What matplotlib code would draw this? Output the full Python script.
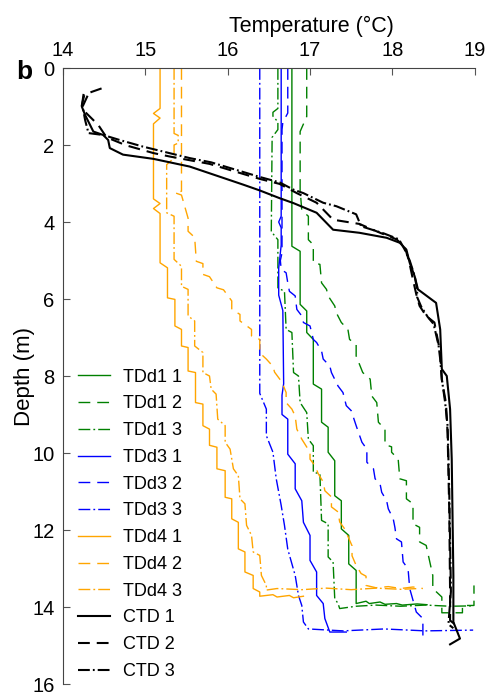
import matplotlib
matplotlib.use("Agg")
import matplotlib.pyplot as plt

plt.rcParams['font.family'] = ['Liberation Sans', 'DejaVu Sans']
plt.rcParams['lines.scale_dashes'] = False

# temperature (degC) / depth (m) profiles
tdd1_1_t = [16.78, 16.78, 16.88, 16.88, 16.96, 16.96, 17.04, 17.04, 17.14, 17.14, 17.22, 17.22,
            17.30, 17.30, 17.38, 17.38, 17.47, 17.47, 17.56, 17.56, 17.68, 17.72, 17.85, 17.91,
            18.05, 18.12, 18.30, 18.42]
tdd1_1_d = [0, 4.63, 4.76, 6.14, 6.31, 6.87, 7.05, 8.21, 8.34, 9.20, 9.33, 9.98,
            10.20, 11.11, 11.24, 11.97, 12.14, 12.88, 13.05, 13.91, 13.85, 13.91, 13.87, 13.93,
            13.91, 13.95, 13.92, 13.94]

tdd1_2_t = [16.96, 16.96, 16.88, 16.88, 16.90, 16.98, 16.98, 17.04, 17.04, 17.12, 17.14, 17.20,
            17.22, 17.30, 17.32, 17.38, 17.46, 17.48, 17.56, 17.56, 17.64, 17.73, 17.75, 17.81,
            17.83, 17.91, 17.91, 17.99, 17.99, 18.07, 18.09, 18.17, 18.17, 18.25, 18.25, 18.33,
            18.33, 18.41, 18.49, 18.49, 18.60, 18.60, 18.85, 18.85, 18.99, 18.99]
tdd1_2_d = [0, 1.26, 1.65, 3.16, 3.70, 3.85, 4.46, 4.59, 5.06, 5.10, 5.58, 5.75,
            5.92, 6.18, 6.36, 6.61, 6.79, 7.05, 7.18, 7.48, 7.91, 8.08, 8.52, 8.69,
            9.20, 9.38, 9.78, 9.84, 9.98, 10.16, 10.67, 10.72, 11.19, 11.32, 11.84, 11.93,
            12.31, 12.40, 13.18, 13.52, 13.74, 14.15, 14.15, 13.96, 13.96, 13.44]

tdd1_3_t = [16.61, 16.61, 16.55, 16.55, 16.61, 16.61, 16.54, 16.53, 16.61, 16.61, 16.69, 16.71,
            16.78, 16.80, 16.86, 16.88, 16.96, 16.98, 17.04, 17.04, 17.12, 17.14, 17.22, 17.22,
            17.28, 17.30, 17.34, 17.36, 17.56, 17.80, 18.10, 18.40, 18.70, 18.99]
tdd1_3_d = [0, 1.05, 1.15, 1.25, 1.40, 1.60, 1.80, 4.25, 4.46, 5.71, 5.80, 6.79,
            6.87, 7.91, 8.00, 8.69, 8.95, 9.64, 9.81, 10.50, 10.54, 11.75, 11.84, 12.70,
            12.83, 13.78, 13.91, 14.04, 13.98, 13.95, 13.98, 13.95, 13.98, 13.97]

tdd3_1_t = [16.65, 16.65, 16.62, 16.65, 16.65, 16.62, 16.62, 16.67, 16.68, 16.66, 16.66, 16.73,
            16.73, 16.82, 16.82, 16.90, 16.92, 17.00, 17.00, 17.08, 17.08, 17.16, 17.18, 17.24, 17.44]
tdd3_1_d = [0, 3.85, 4.00, 4.15, 4.60, 5.20, 5.90, 6.30, 8.20, 8.50, 9.00, 9.12,
            10.03, 10.28, 10.93, 11.24, 11.80, 12.14, 12.79, 13.09, 13.70, 13.91, 14.30, 14.65, 14.65]

tdd3_2_t = [16.73, 16.73, 16.67, 16.66, 16.66, 16.64, 16.65, 16.71, 16.73, 16.75, 16.82, 16.84,
            16.90, 16.92, 17.00, 17.04, 17.08, 17.14, 17.16, 17.24, 17.26, 17.34, 17.40, 17.44,
            17.50, 17.56, 17.63, 17.69, 17.69, 17.77, 17.79, 17.85, 17.87, 17.93, 17.95, 18.01,
            18.03, 18.05, 18.11, 18.13, 18.19, 18.21, 18.29, 18.37, 18.37]
tdd3_2_d = [0, 1.17, 1.41, 1.60, 4.80, 5.00, 5.23, 5.32, 5.58, 5.80, 5.92, 6.27,
            6.44, 6.61, 6.70, 7.05, 7.13, 7.35, 7.56, 7.74, 7.91, 8.26, 8.43, 8.77,
            8.90, 9.29, 9.72, 9.90, 10.24, 10.41, 10.67, 10.80, 11.02, 11.24, 11.45, 11.71,
            11.93, 12.23, 12.31, 12.83, 13.01, 13.52, 14.13, 14.30, 14.82]

tdd3_3_t = [16.39, 16.39, 16.47, 16.47, 16.55, 16.59, 16.65, 16.69, 16.73, 16.82, 16.86, 16.90,
            16.92, 16.98, 17.40, 17.90, 18.40, 18.98]
tdd3_3_d = [0, 8.45, 8.86, 9.55, 9.98, 10.67, 11.36, 11.88, 12.50, 13.18, 13.70, 13.96,
            14.39, 14.57, 14.62, 14.57, 14.62, 14.60]

tdd4_1_t = [15.18, 15.18, 15.10, 15.18, 15.10, 15.10, 15.18, 15.10, 15.18, 15.18, 15.27, 15.27,
            15.36, 15.36, 15.44, 15.44, 15.52, 15.52, 15.61, 15.61, 15.70, 15.70, 15.78, 15.78,
            15.87, 15.87, 15.97, 15.97, 16.05, 16.05, 16.13, 16.13, 16.21, 16.21, 16.31, 16.31,
            16.39, 16.39, 16.55, 16.60, 16.75, 16.80, 16.92]
tdd4_1_d = [0, 1.05, 1.18, 1.30, 1.45, 3.40, 3.52, 3.65, 3.78, 5.06, 5.19, 5.97,
            6.01, 6.70, 6.79, 7.22, 7.26, 7.87, 7.91, 8.69, 8.73, 9.29, 9.38, 9.80,
            9.85, 10.41, 10.46, 11.15, 11.19, 11.71, 11.80, 12.49, 12.57, 13.09, 13.18, 13.52,
            13.61, 13.72, 13.68, 13.74, 13.70, 13.76, 13.72]

tdd4_2_t = [15.44, 15.44, 15.36, 15.44, 15.52, 15.52, 15.60, 15.62, 15.70, 15.70, 15.78, 15.87,
            15.95, 16.05, 16.05, 16.15, 16.15, 16.29, 16.29, 16.39, 16.39, 16.47, 16.55, 16.57,
            16.66, 16.71, 16.71, 16.78, 16.82, 16.84, 16.90, 17.00, 17.00, 17.06, 17.10, 17.16,
            17.18, 17.26, 17.26, 17.34, 17.36, 17.42, 17.51, 17.51, 17.56, 17.62, 17.68, 17.68,
            17.80, 17.95, 18.10, 18.25, 18.37]
tdd4_2_d = [0, 3.20, 3.24, 3.30, 3.90, 4.24, 4.40, 5.02, 5.08, 5.36, 5.42, 5.71,
            5.76, 6.05, 6.27, 6.40, 6.57, 6.79, 6.96, 7.05, 7.40, 7.56, 7.75, 7.90,
            8.16, 8.43, 8.69, 8.86, 9.04, 9.38, 9.64, 9.98, 10.16, 10.33, 10.54, 10.75,
            10.98, 11.14, 11.40, 11.53, 11.79, 11.97, 12.41, 12.67, 12.92, 13.13, 13.20, 13.44,
            13.50, 13.47, 13.52, 13.48, 13.52]

tdd4_3_t = [15.35, 15.35, 15.40, 15.40, 15.35, 15.35, 15.26, 15.26, 15.30, 15.35, 15.35, 15.44,
            15.44, 15.52, 15.52, 15.60, 15.60, 15.70, 15.70, 15.78, 15.80, 15.86, 15.88, 15.97,
            15.97, 16.03, 16.07, 16.13, 16.15, 16.21, 16.23, 16.29, 16.31, 16.39, 16.41, 16.47,
            16.47, 16.60, 16.90, 17.20, 17.50, 17.80, 18.10, 18.32]
tdd4_3_d = [0, 1.70, 1.75, 1.95, 2.00, 2.34, 2.51, 3.76, 3.80, 3.85, 4.97, 5.15,
            5.67, 5.75, 6.44, 6.57, 7.22, 7.39, 7.91, 8.00, 8.34, 8.47, 9.12, 9.29,
            9.72, 9.90, 10.41, 10.59, 11.19, 11.32, 11.88, 12.14, 12.57, 12.66, 13.18, 13.44,
            13.56, 13.52, 13.55, 13.51, 13.55, 13.51, 13.54, 13.52]

ctd1_t = [14.25, 14.23, 14.27, 14.37, 14.49, 14.55, 14.57, 14.73, 15.10, 15.54, 16.19, 16.39,
          16.63, 16.80, 17.08, 17.28, 17.60, 17.93, 18.09, 18.17, 18.21, 18.27, 18.31, 18.53,
          18.58, 18.60, 18.66, 18.70, 18.72, 18.74, 18.74, 18.82, 18.70]
ctd1_d = [0.70, 1.00, 1.22, 1.65, 1.74, 1.87, 2.08, 2.25, 2.36, 2.56, 3.03, 3.18,
          3.38, 3.51, 3.76, 4.20, 4.28, 4.41, 4.54, 4.72, 5.06, 5.41, 5.75, 6.10,
          6.79, 7.82, 8.00, 8.86, 10.16, 13.18, 14.39, 14.82, 14.97]

ctd2_t = [14.47, 14.35, 14.26, 14.23, 14.26, 14.43, 14.53, 14.77, 15.10, 15.30, 15.78, 16.39,
          16.63, 16.84, 17.08, 17.28, 17.60, 17.85, 18.05, 18.15, 18.20, 18.25, 18.29, 18.33,
          18.41, 18.51, 18.58, 18.60, 18.65, 18.67, 18.69, 18.70, 18.70, 18.76]
ctd2_d = [0.53, 0.62, 0.70, 0.97, 1.12, 1.48, 1.80, 2.01, 2.21, 2.30, 2.49, 2.88,
          3.01, 3.25, 3.50, 3.94, 4.05, 4.28, 4.45, 4.65, 5.00, 5.50, 5.88, 6.18,
          6.44, 6.61, 7.39, 8.10, 8.70, 9.50, 11.50, 13.60, 14.35, 14.45]

ctd3_t = [14.30, 14.24, 14.27, 14.30, 14.31, 14.49, 14.69, 14.97, 15.54, 15.80, 16.39, 16.63,
          16.80, 16.92, 17.16, 17.32, 17.56, 17.62, 17.90, 18.08, 18.15, 18.21, 18.27, 18.30,
          18.30, 18.35, 18.43, 18.50, 18.56, 18.58, 18.60, 18.64, 18.67, 18.69, 18.71, 18.68, 18.74]
ctd3_d = [0.72, 1.00, 1.35, 1.60, 1.69, 1.74, 1.87, 2.04, 2.34, 2.45, 2.83, 2.97,
          3.16, 3.25, 3.50, 3.59, 3.80, 4.11, 4.30, 4.45, 4.72, 5.00, 5.40, 5.75,
          5.95, 6.20, 6.47, 6.65, 7.20, 7.56, 8.08, 8.69, 9.30, 11.00, 13.60, 14.45, 14.55]

green = '#008000'
blue = '#0000ff'
orange = '#ffa500'
dash = (0, (8.5, 5))
dashdot = (0, (8.5, 2.2, 1.3, 2.2))

series = [
    (tdd1_1_t, tdd1_1_d, green, '-', 'TDd1 1'),
    (tdd1_2_t, tdd1_2_d, green, dash, 'TDd1 2'),
    (tdd1_3_t, tdd1_3_d, green, dashdot, 'TDd1 3'),
    (tdd3_1_t, tdd3_1_d, blue, '-', 'TDd3 1'),
    (tdd3_2_t, tdd3_2_d, blue, dash, 'TDd3 2'),
    (tdd3_3_t, tdd3_3_d, blue, dashdot, 'TDd3 3'),
    (tdd4_1_t, tdd4_1_d, orange, '-', 'TDd4 1'),
    (tdd4_2_t, tdd4_2_d, orange, dash, 'TDd4 2'),
    (tdd4_3_t, tdd4_3_d, orange, dashdot, 'TDd4 3'),
    (ctd1_t, ctd1_d, 'black', '-', 'CTD 1'),
    (ctd2_t, ctd2_d, 'black', dash, 'CTD 2'),
    (ctd3_t, ctd3_d, 'black', dashdot, 'CTD 3'),
]

fig = plt.figure(figsize=(4.91, 6.94), dpi=100)
ax = fig.add_axes([0.128, 0.0144, 0.839, 0.8876])

for t, d, c, ls, lab in series:
    lw = 1.5 if c == 'black' else 1.0
    ax.plot(t, d, color=c, linestyle=ls, linewidth=lw, label=lab)

ax.set_xlim(14, 19)
ax.set_ylim(16, 0)
ax.set_xticks([14, 15, 16, 17, 18, 19])
ax.set_yticks(range(0, 17, 2))
ax.xaxis.tick_top()
ax.xaxis.set_label_position('top')
ax.set_xlabel('Temperature (°C)', fontsize=15.5)
ax.set_ylabel('Depth (m)', fontsize=16)
ax.xaxis.set_label_coords(0.603, 1.058)
ax.yaxis.set_label_coords(-0.068, 0.5)
ax.tick_params(direction='in', length=5, width=0.8, color='#555555', labelsize=14.5, pad=6)
for s in ['right', 'bottom']:
    ax.spines[s].set_visible(False)
for s in ['left', 'top']:
    ax.spines[s].set_color('#444444')
    ax.spines[s].set_linewidth(0.8)

ax.legend(loc='lower left', bbox_to_anchor=(0.02, -0.005), frameon=False, fontsize=13,
          handlelength=1.75, handletextpad=0.75, labelspacing=0.54, borderaxespad=0)

fig.text(0.033, 0.896, 'b', fontsize=19, fontweight='bold', va='center')

fig.savefig('out.png', dpi=100)
